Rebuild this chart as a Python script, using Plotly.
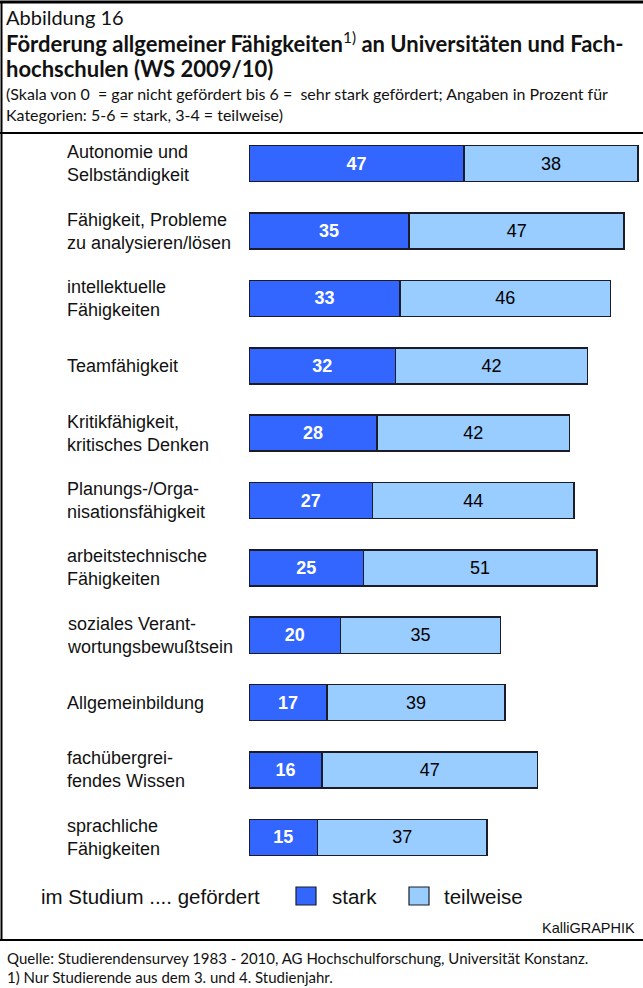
import plotly.graph_objects as go

# ---- data ----
categories = [
    "Autonomie und<br>Selbständigkeit",
    "Fähigkeit, Probleme<br>zu analysieren/lösen",
    "intellektuelle<br>Fähigkeiten",
    "Teamfähigkeit",
    "Kritikfähigkeit,<br>kritisches Denken",
    "Planungs-/Orga-<br>nisationsfähigkeit",
    "arbeitstechnische<br>Fähigkeiten",
    "soziales Verant-<br>wortungsbewußtsein",
    "Allgemeinbildung",
    "fachübergrei-<br>fendes Wissen",
    "sprachliche<br>Fähigkeiten",
]
stark = [47, 35, 33, 32, 28, 27, 25, 20, 17, 16, 15]
teilweise = [38, 47, 46, 42, 42, 44, 51, 35, 39, 47, 37]

# ---- layout geometry (pixels) ----
W, H = 643, 988
L, R, T, B = 249, 3, 130, 117
PW, PH = W - L - R, H - T - B
XMAX = 85.45

def px(x):
    return (x - L) / PW

def py(y):
    return (H - B - y) / PH

BLUE = "#3366FF"
LIGHT = "#99CCFF"
EDGE = "#1c1c28"
CHART_FONT = "Liberation Sans, Arial, sans-serif"
HEAD_FONT = "Lato, Noto Sans, sans-serif"

idx = list(range(len(categories)))

fig = go.Figure()
fig.add_trace(go.Bar(
    y=idx, x=stark, orientation="h", name="stark", width=0.535,
    marker=dict(color=BLUE, line=dict(color=EDGE, width=1.5)),
    text=[str(v) for v in stark], textposition="inside", insidetextanchor="middle",
    textfont=dict(family=CHART_FONT, size=18, color="white", weight="bold"),
    constraintext="none", showlegend=False, hoverinfo="skip",
))
fig.add_trace(go.Bar(
    y=idx, x=teilweise, orientation="h", name="teilweise", width=0.535,
    marker=dict(color=LIGHT, line=dict(color=EDGE, width=1.5)),
    text=[str(v) for v in teilweise], textposition="inside", insidetextanchor="middle",
    textfont=dict(family=CHART_FONT, size=18, color="black"),
    constraintext="none", showlegend=False, hoverinfo="skip",
))

annotations = []
# category labels
for i, c in enumerate(categories):
    annotations.append(dict(
        x=px(65), xref="paper", y=i, yref="y", text=c, showarrow=False,
        xanchor="left", yanchor="middle", align="left",
        font=dict(family=CHART_FONT, size=18, color="#111"),
    ))

hdr = [
    dict(x=px(4), y=py(17), text="Abbildung 16",
         font=dict(family=HEAD_FONT, size=20, color="#111")),
    dict(x=px(4), y=py(43),
         text="<b>Förderung allgemeiner Fähigkeiten</b><sup>1)</sup><b> an Universitäten und Fach-</b>",
         font=dict(family=HEAD_FONT, size=22, color="#111")),
    dict(x=px(4), y=py(68), text="<b>hochschulen (WS 2009/10)</b>",
         font=dict(family=HEAD_FONT, size=22, color="#111")),
    dict(x=px(4), y=py(94),
         text="(Skala von 0  = gar nicht gefördert bis 6 =  sehr stark gefördert; Angaben in Prozent für",
         font=dict(family=HEAD_FONT, size=16, color="#111")),
    dict(x=px(4), y=py(115), text="Kategorien: 5-6 = stark, 3-4 = teilweise)",
         font=dict(family=HEAD_FONT, size=16, color="#111")),
    # legend
    dict(x=px(39), y=py(896), text="im Studium .... gefördert",
         font=dict(family=CHART_FONT, size=20.5, color="#111")),
    dict(x=px(330), y=py(896), text="stark",
         font=dict(family=CHART_FONT, size=20.5, color="#111")),
    dict(x=px(442), y=py(896), text="teilweise",
         font=dict(family=CHART_FONT, size=20.5, color="#111")),
    # footer
    dict(x=px(5), y=py(958),
         text="Quelle: Studierendensurvey 1983 - 2010, AG Hochschulforschung, Universität Konstanz.",
         font=dict(family=HEAD_FONT, size=15, color="#111")),
    dict(x=px(5), y=py(977), text="1) Nur Studierende aus dem 3. und 4. Studienjahr.",
         font=dict(family=HEAD_FONT, size=15, color="#111")),
]
for a in hdr:
    a.update(xref="paper", yref="paper", showarrow=False, xanchor="left", yanchor="middle")
annotations += hdr
annotations.append(dict(
    x=px(637), y=py(928), xref="paper", yref="paper", text="KalliGRAPHIK",
    showarrow=False, xanchor="right", yanchor="middle",
    font=dict(family=CHART_FONT, size=14.5, color="#111"),
))

shapes = [
    # frame lines
    dict(type="line", xref="paper", yref="paper", x0=px(0), x1=px(W), y0=py(2), y1=py(2),
         line=dict(color="black", width=3)),
    dict(type="line", xref="paper", yref="paper", x0=px(0), x1=px(W), y0=py(133), y1=py(133),
         line=dict(color="black", width=2)),
    dict(type="line", xref="paper", yref="paper", x0=px(1.5), x1=px(1.5), y0=py(1), y1=py(940),
         line=dict(color="black", width=2)),
    dict(type="line", xref="paper", yref="paper", x0=px(0), x1=px(W), y0=py(940), y1=py(940),
         line=dict(color="black", width=2)),
    # legend boxes
    dict(type="rect", xref="paper", yref="paper", x0=px(296), x1=px(316), y0=py(887), y1=py(905),
         fillcolor=BLUE, line=dict(color=EDGE, width=1.2)),
    dict(type="rect", xref="paper", yref="paper", x0=px(409), x1=px(429), y0=py(887), y1=py(905),
         fillcolor=LIGHT, line=dict(color=EDGE, width=1.2)),
]

fig.update_layout(
    barmode="stack",
    width=W, height=H,
    margin=dict(l=L, r=R, t=T, b=B, autoexpand=False),
    paper_bgcolor="white", plot_bgcolor="white",
    xaxis=dict(range=[0, XMAX], visible=False, fixedrange=True),
    yaxis=dict(range=[len(categories) - 0.5, -0.5], visible=False, fixedrange=True),
    annotations=annotations,
    shapes=shapes,
    showlegend=False,
)

fig.write_html(
    "out.html",
    config={"displayModeBar": False},
    post_script="document.body.style.margin='0';document.body.style.padding='0';",
)
